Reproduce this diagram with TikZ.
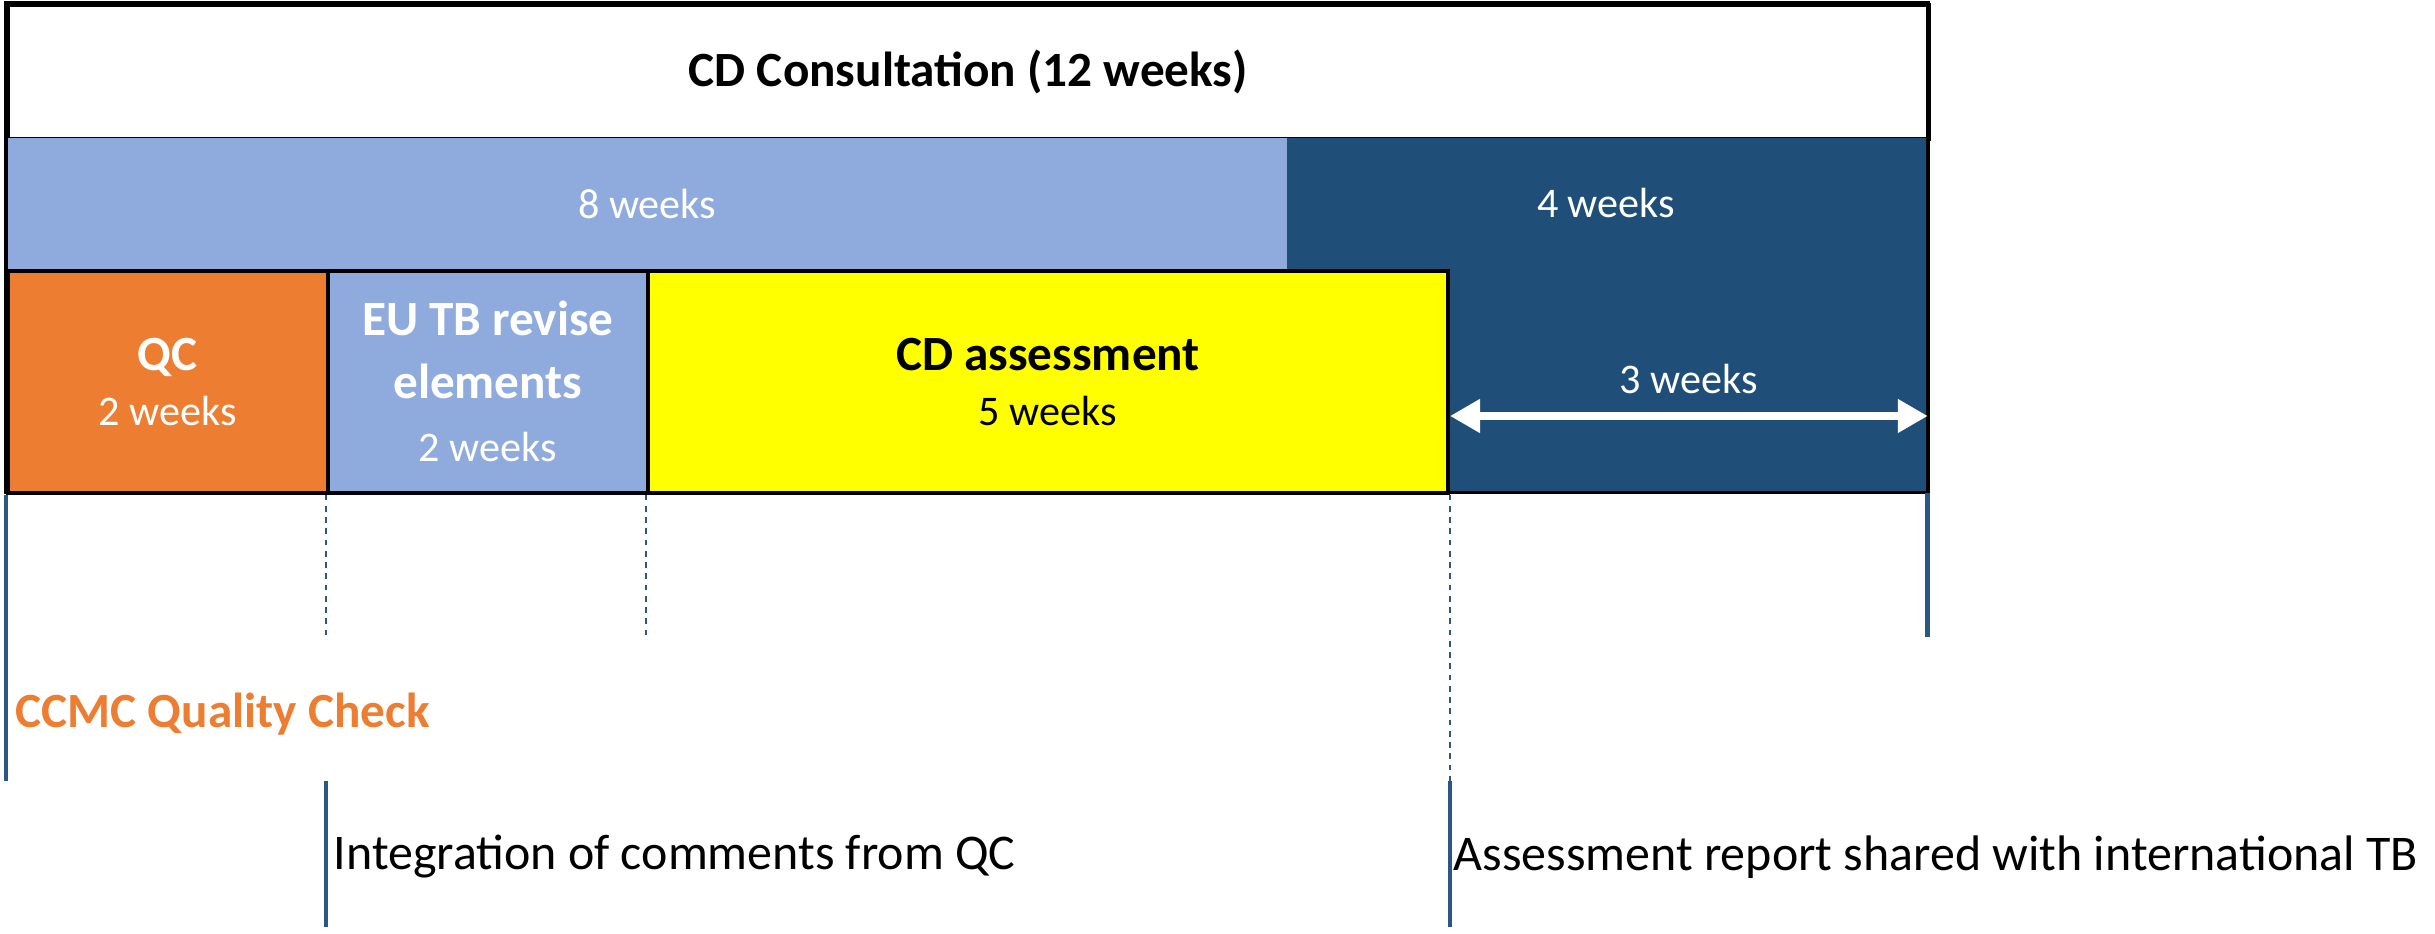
\documentclass[tikz,border=0pt]{standalone}
\usepackage{fontspec}
\setmainfont{Carlito}
\usetikzlibrary{arrows.meta, positioning}
\definecolor{cell_blue}{HTML}{8FAADC}
\definecolor{navy}{HTML}{1F4E79}
\definecolor{qc_orange}{HTML}{ED7D31}
\definecolor{cd_yellow}{HTML}{FFFF00}
\definecolor{tick_blue}{HTML}{2A5783}
\def \PH {\fontsize{14}{15.6}\selectfont\bfseries}
\def \WK {\fontsize{12}{15.6}\selectfont\mdseries}

\begin{document}
\begin{tikzpicture}[
    x=0.01cm, y=-0.01cm,
    band/.style={
        rectangle,
        fill=#1,
        inner sep=0pt,
        anchor=north west,
        text=white,
        font=\WK,
        align=center
    },
    phase/.style={
        rectangle,
        draw=black,
        line width=1pt,
        fill=#1,
        inner sep=0pt,
        anchor=north west,
        minimum height=2.22cm,
        text=white,
        font=\fontsize{14}{15.6}\selectfont,
        align=center
    },
    tick/.style={
        line width=1.4pt,
        draw=tick_blue
    },
    guide/.style={
        line width=0.6pt,
        draw=tick_blue,
        dash pattern=on 1.6pt off 1.6pt
    },
    span/.style={
        {Triangle[length=0.3cm, width=0.32cm]}-{Triangle[length=0.3cm, width=0.32cm]},
        line width=2.2pt, white
    },
    note/.style={
        anchor=west,
        inner sep=0pt,
        font=\fontsize{14.2}{17}\selectfont
    }
]
\useasboundingbox (0,0) rectangle (2435,934);

% Consultation header
\node[phase=white, minimum width=19.2cm, minimum height=1.34cm, text=black,
      font=\fontsize{14}{17}\selectfont\bfseries] (consult) at (6,3) {CD Consultation (12 weeks)};

% Week bands
\node[band=cell_blue, minimum width=12.8cm, minimum height=1.32cm] (eightwk) at (6,137) {8 weeks};
\node[band=navy, minimum width=6.4cm, minimum height=3.54cm] (navyblk) at (1286,137) {};
\node[text=white, font=\WK] (fourwk) at (1606,203) {4 weeks};

% Phase cells
\node[phase=qc_orange, minimum width=3.2cm] (qc) at (6,269) {\PH QC\\\WK 2 weeks};
\node[phase=cell_blue, minimum width=3.2cm] (revise) at (326,269) {\PH EU TB revise\\[2.3pt]\PH elements\\[2.3pt]\WK 2 weeks};
\node[phase=cd_yellow, minimum width=8cm, text=black] (assess) at (646,269) {\PH CD assessment\\\WK 5 weeks};

% Outer frame
\draw[line width=1pt] (consult.north west) rectangle (navyblk.south east);

% Remaining period arrow
\coordinate (arrowrow) at (0,416);
\draw[span] (assess.east |- arrowrow) -- (navyblk.east |- arrowrow)
    node[midway, above=2pt, text=white, font=\WK] (threewk) {3 weeks};

% Timeline levels
\coordinate (lvlA) at (0,637);
\coordinate (lvlB) at (0,781);
\coordinate (lvlC) at (0,927);

% Guide and tick lines
\draw[guide] (revise.south west) -- (revise.south west |- lvlA);
\draw[guide] (assess.south west) -- (assess.south west |- lvlA);
\draw[guide] (assess.south east) -- (assess.south east |- lvlB);
\draw[tick] (qc.south west) -- (qc.south west |- lvlB);
\draw[tick] (navyblk.south east) -- (navyblk.south east |- lvlA);
\draw[tick] (revise.south west |- lvlB) -- (revise.south west |- lvlC);
\draw[tick] (assess.south east |- lvlB) -- (assess.south east |- lvlC);

% Milestone notes
\node[note, text=qc_orange, font=\fontsize{14}{17}\selectfont\bfseries] (ccmc) at (15,714) {CCMC Quality Check};
\node[note] (integ) at (333,857) {Integration of comments from QC};
\node[note] (report) at (1453,857) {Assessment report shared with international TB};

\end{tikzpicture}
\end{document}
